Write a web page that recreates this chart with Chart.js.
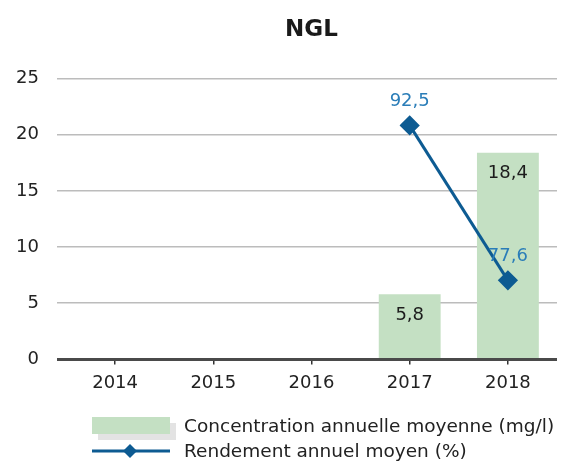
<!DOCTYPE html>
<html lang="fr">
<head>
    <meta charset="UTF-8">
    <title>NGL</title>
    <script src="https://cdn.jsdelivr.net/npm/chart.js"></script>
    <style>
        html, body {
            margin: 0;
            padding: 0;
            background: #ffffff;
        }

        .chart-box {
            width: 563px;
            height: 463px;
        }
    </style>
</head>
<body>
    <div class="chart-box">
        <canvas id="nglChart"></canvas>
    </div>

    <script>
        const years = ['2014', '2015', '2016', '2017', '2018'];
        const concentration = [null, null, null, 5.8, 18.4];   // mg/l
        const rendement = [null, null, null, 92.5, 77.6];      // %
        const legendLabels = ['Concentration annuelle moyenne (mg/l)', 'Rendement annuel moyen (%)'];

        const BAR_GREEN = '#c4e0c3';
        const LINE_BLUE = '#0d5b92';
        const LABEL_BLUE = '#2a7db8';
        const FONT = '"DejaVu Sans", Verdana, sans-serif';

        const frNumber = v => v.toFixed(1).replace('.', ',');

        // value labels: inside the bar top, above the line points
        const valueLabels = {
            id: 'valueLabels',
            afterDatasetsDraw(chart) {
                const ctx = chart.ctx;
                ctx.save();
                ctx.font = '18px ' + FONT;
                ctx.textAlign = 'center';
                ctx.textBaseline = 'middle';
                chart.data.datasets.forEach((ds, di) => {
                    const meta = chart.getDatasetMeta(di);
                    meta.data.forEach((el, i) => {
                        const v = ds.data[i];
                        if (v === null) return;
                        if (ds.type === 'bar') {
                            ctx.fillStyle = '#1c1c1c';
                            ctx.fillText(frNumber(v), el.x, el.y + 21);
                        } else {
                            ctx.fillStyle = LABEL_BLUE;
                            ctx.fillText(frNumber(v), el.x, el.y - 24);
                        }
                    });
                });
                ctx.restore();
            }
        };

        // two-row legend under the axis
        const bottomLegend = {
            id: 'bottomLegend',
            afterDraw(chart) {
                const ctx = chart.ctx;
                const x0 = 92, row1 = 426, row2 = 451, w = 78;
                ctx.save();
                // shaded swatch
                ctx.fillStyle = '#e3e3e3';
                ctx.fillRect(x0 + 6, row1 - 3, w, 17);
                ctx.fillStyle = BAR_GREEN;
                ctx.fillRect(x0, row1 - 9, w, 17);
                // line + diamond
                ctx.strokeStyle = LINE_BLUE;
                ctx.lineWidth = 3;
                ctx.beginPath();
                ctx.moveTo(x0, row2);
                ctx.lineTo(x0 + w, row2);
                ctx.stroke();
                ctx.fillStyle = LINE_BLUE;
                ctx.beginPath();
                ctx.moveTo(x0 + 38, row2 - 7);
                ctx.lineTo(x0 + 45, row2);
                ctx.lineTo(x0 + 38, row2 + 7);
                ctx.lineTo(x0 + 31, row2);
                ctx.closePath();
                ctx.fill();
                // texts
                ctx.font = '18.5px ' + FONT;
                ctx.fillStyle = '#222222';
                ctx.textBaseline = 'middle';
                ctx.textAlign = 'left';
                ctx.fillText(legendLabels[0], 184, row1 + 1);
                ctx.fillText(legendLabels[1], 184, row2 + 1);
                ctx.restore();
            }
        };

        new Chart(document.getElementById('nglChart'), {
            data: {
                labels: years,
                datasets: [{
                    type: 'line',
                    label: legendLabels[1],
                    data: rendement,
                    yAxisID: 'y1',
                    borderColor: LINE_BLUE,
                    backgroundColor: LINE_BLUE,
                    borderWidth: 3,
                    pointStyle: 'rectRot',
                    pointRadius: 8,
                    pointHoverRadius: 8,
                    tension: 0,
                    order: 0
                }, {
                    type: 'bar',
                    label: legendLabels[0],
                    data: concentration,
                    yAxisID: 'y',
                    backgroundColor: BAR_GREEN,
                    borderWidth: 0,
                    categoryPercentage: 1,
                    barPercentage: 0.63,
                    order: 1
                }]
            },
            options: {
                responsive: true,
                maintainAspectRatio: false,
                animation: false,
                layout: {
                    autoPadding: false,
                    padding: { left: 0, right: 6, top: 0, bottom: 61 }
                },
                plugins: {
                    legend: { display: false },
                    tooltip: { enabled: false },
                    title: {
                        display: true,
                        text: 'NGL',
                        fullSize: false,
                        color: '#1a1a1a',
                        font: { family: FONT, size: 23, weight: 'bold' },
                        padding: { top: 16, bottom: 35 }
                    }
                },
                scales: {
                    x: {
                        offset: true,
                        border: { display: false },
                        grid: {
                            offset: false,
                            drawOnChartArea: false,
                            drawTicks: true,
                            tickLength: 5,
                            color: '#333333',
                            lineWidth: 1.5
                        },
                        ticks: {
                            color: '#222222',
                            padding: 8,
                            font: { family: FONT, size: 18 }
                        }
                    },
                    y: {
                        min: 0,
                        max: 25,
                        border: { display: false },
                        afterFit(scale) { scale.width = 66; },
                        grid: {
                            drawTicks: true,
                            tickLength: 9,
                            color: c => c.tick && c.tick.value === 0 ? '#4a4a4a' : '#bcbcbc',
                            lineWidth: c => c.tick && c.tick.value === 0 ? 3 : 1.5
                        },
                        ticks: {
                            stepSize: 5,
                            color: '#222222',
                            padding: 18,
                            font: { family: FONT, size: 18 }
                        }
                    },
                    y1: {
                        display: false,
                        position: 'right',
                        min: 70,
                        max: 97
                    }
                }
            },
            plugins: [valueLabels, bottomLegend]
        });
    </script>
</body>
</html>
